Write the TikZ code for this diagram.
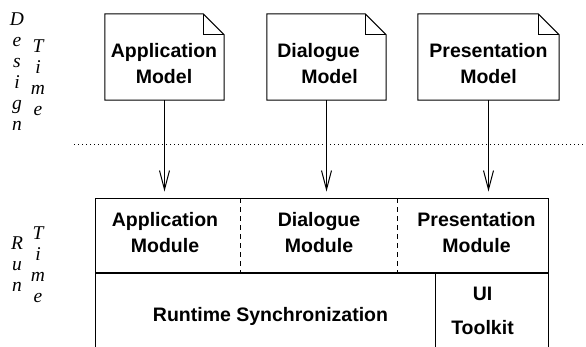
\documentclass[tikz,border=0pt]{standalone}
\usepackage{fontspec}
\setmainfont{Liberation Sans}
\newfontfamily\serifit{Liberation Serif Italic}
\usetikzlibrary{arrows.meta}
\tikzset{
  lw/.style={line width=1pt},
  mtext/.style={font=\bfseries\fontsize{19.5}{26}\selectfont, align=center, anchor=north, inner sep=0pt},
  vtext/.style={font=\serifit\fontsize{19.5}{21}\selectfont, align=center, anchor=north, inner sep=0pt},
  notebox/.style={rectangle, inner sep=0pt, minimum height=86pt},
  arr/.style={lw, -{Straight Barb[length=19pt,width=10pt,line width=1pt]}, shorten >=6pt},
  divider/.style={lw, dash pattern=on 5pt off 4pt},
}
\begin{document}
\begin{tikzpicture}[x=1pt,y=-1pt]
\useasboundingbox (0,0) rectangle (586,346);
\clip (0,0) rectangle (586,346);
\fill[white] (0,0) rectangle (586,346);

% note boxes
\node[notebox, minimum width=119pt] (am) at (164.5,57) {};
\node[notebox, minimum width=119pt] (dm) at (326.5,57) {};
\node[notebox, minimum width=141pt] (pm) at (488.5,57) {};
\foreach \n in {am,dm,pm}{
  \draw[lw, line join=miter] (\n.north west) -- ([xshift=-21pt]\n.north east) -- ([yshift=-21pt]\n.north east) -- (\n.south east) -- (\n.south west) -- cycle;
  \draw[lw] ([xshift=-21pt]\n.north east) -- ([xshift=-21pt,yshift=-21pt]\n.north east) -- ([yshift=-21pt]\n.north east);
}
\node[mtext] (amt) at (164,43) {Application\\Model};
\node[mtext] (dmt) at (318.5,43) {Dialogue\\\hspace*{22pt}Model};
\node[mtext] (pmt) at (488.5,43) {Presentation\\Model};

% dotted separator
\coordinate (sepL) at (74,144);
\coordinate (sepR) at (590,144);
\draw[line width=1pt, dash pattern=on 1pt off 3pt] (sepL) -- (sepR);

% module row
\node[draw, lw, rectangle, inner sep=0pt, minimum width=453pt, minimum height=74pt] (mods) at (321.5,235) {};
\draw[divider] (240,198) -- (240,272);
\draw[divider] (397,198) -- (397,272);
\node[mtext] (amod) at (165,212) {Application\\Module};
\node[mtext] (dmod) at (319,212) {Dialogue\\Module};
\node[mtext] (pmod) at (476.5,212) {Presentation\\Module};

% bottom
\draw[lw] (95,273) rectangle (548,360);
\draw[lw] (435,273) -- (435,360);
\node[mtext] (sync) at (270.5,307) {Runtime Synchronization};
\node[font=\bfseries\fontsize{19.5}{34}\selectfont, align=center, anchor=north, inner sep=0pt] (uit) at (482.5,287) {UI\\Toolkit};

% arrows
\draw[arr] (am.south) -- (am.south |- mods.north);
\draw[arr] (dm.south) -- (dm.south |- mods.north);
\draw[arr] (pm.south) -- (pm.south |- mods.north);

% side labels
\node[vtext] (design) at (17,13) {D\\e\\s\\i\\g\\n};
\node[vtext] (dtime) at (38,40) {T\\i\\m\\e};
\node[vtext] (run) at (17,237) {R\\u\\n};
\node[vtext] (rtime) at (38,227) {T\\i\\m\\e};
\end{tikzpicture}
\end{document}
